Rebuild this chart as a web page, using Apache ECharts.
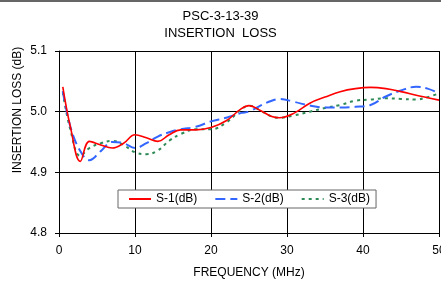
<!DOCTYPE html>
<html>
<head>
<meta charset="utf-8">
<script src="https://cdn.jsdelivr.net/npm/echarts@6/dist/echarts.min.js"></script>
<style>
  html, body { margin: 0; padding: 0; background: #fff; }
  #chart { width: 441px; height: 282px; }
</style>
</head>
<body>
<div id="chart"></div>
<script>
// frequency points (MHz)
var freq = [0.5, 1.5, 2.8, 4, 5.5, 7, 8.5, 10, 11.5, 13, 14.5, 16, 18, 20, 22, 24, 25, 26.5, 28, 29, 31, 33, 35, 37, 39, 41, 43, 45, 47, 48.5, 50]

// insertion loss (dB)
var s1 = [5.041, 4.975, 4.918, 4.951, 4.945, 4.940, 4.948, 4.962, 4.957, 4.951, 4.962, 4.970, 4.970, 4.974, 4.985, 5.005, 5.010, 5.002, 4.992, 4.990, 4.998, 5.014, 5.024, 5.033, 5.038, 5.040, 5.038, 5.033, 5.027, 5.023, 5.019]
var s2 = [5.034, 4.975, 4.935, 4.920, 4.935, 4.950, 4.948, 4.940, 4.948, 4.959, 4.966, 4.971, 4.975, 4.984, 4.990, 4.998, 5.000, 5.010, 5.018, 5.021, 5.016, 5.010, 5.007, 5.007, 5.008, 5.011, 5.025, 5.035, 5.041, 5.038, 5.030]
var s3 = [5.032, 4.970, 4.927, 4.940, 4.948, 4.952, 4.945, 4.933, 4.930, 4.936, 4.952, 4.963, 4.971, 4.971, 4.982, 5.004, 5.010, 5.002, 4.992, 4.990, 4.994, 5.000, 5.006, 5.011, 5.018, 5.020, 5.022, 5.021, 5.020, 5.024, 5.030]

var seriesNames = ['S-1(dB)', 'S-2(dB)', 'S-3(dB)']

function pairs(ys) {
  return freq.map(function (f, i) { return [f, ys[i]] })
}

var chart = echarts.init(document.getElementById('chart'))
var font = 'Liberation Sans, Arial, sans-serif'

chart.setOption({
  animation: false,
  textStyle: { fontFamily: font },
  title: {
    text: 'PSC-3-13-39\nINSERTION  LOSS',
    left: 'center',
    top: 3,
    textStyle: { fontSize: 13, fontWeight: 'normal', color: '#000', lineHeight: 17, fontFamily: font }
  },
  graphic: [
    { type: 'rect', left: 0, top: 0, shape: { width: 441, height: 2 }, style: { fill: '#666' } }
  ],
  legend: {
    left: 118,
    top: 190,
    data: seriesNames,
    backgroundColor: '#fff',
    borderColor: '#666',
    borderWidth: 1,
    padding: [3, 6, 3, 10],
    itemWidth: 22,
    itemHeight: 10,
    itemGap: 17,
    itemStyle: { opacity: 0 },
    textStyle: { fontSize: 12, color: '#000', fontFamily: font }
  },
  grid: { left: 59, right: 2, top: 51, bottom: 49, outerBoundsMode: 'none' },
  xAxis: {
    type: 'value',
    min: 0,
    max: 50,
    interval: 10,
    name: 'FREQUENCY (MHz)',
    nameLocation: 'middle',
    nameGap: 34,
    nameTextStyle: { fontSize: 12, color: '#000', fontFamily: font },
    axisLine: { lineStyle: { color: '#000', width: 1 } },
    axisTick: { show: true, length: 4, lineStyle: { color: '#000' } },
    axisLabel: { fontSize: 12, color: '#000', margin: 12 },
    splitLine: { show: true, lineStyle: { color: '#000', width: 1 } }
  },
  yAxis: {
    type: 'value',
    min: 4.8,
    max: 5.1,
    interval: 0.1,
    name: 'INSERTION LOSS (dB)',
    nameLocation: 'middle',
    nameGap: 35,
    nameMoveOverlap: false,
    nameTextStyle: { fontSize: 12, color: '#000', fontFamily: font, padding: [0, 0, 0, 64] },
    axisLine: { show: true, lineStyle: { color: '#000', width: 1 } },
    axisTick: { show: true, length: 4, lineStyle: { color: '#000' } },
    axisLabel: { fontSize: 12, color: '#000', margin: 12, formatter: function (v) { return v.toFixed(1) } },
    splitLine: { show: true, lineStyle: { color: '#000', width: 1 } }
  },
  series: [
    {
      name: seriesNames[0],
      type: 'line',
      smooth: 0.4,
      symbol: 'none',
      z: 4,
      lineStyle: { color: '#ff0000', width: 1.6 },
      itemStyle: { color: '#ff0000' },
      data: pairs(s1)
    },
    {
      name: seriesNames[1],
      type: 'line',
      smooth: 0.4,
      symbol: 'none',
      z: 3,
      lineStyle: { color: '#3366ff', width: 2, type: [10, 5] },
      itemStyle: { color: '#3366ff' },
      data: pairs(s2)
    },
    {
      name: seriesNames[2],
      type: 'line',
      smooth: 0.4,
      symbol: 'none',
      z: 2,
      lineStyle: { color: '#2e8b57', width: 2, type: [3, 4] },
      itemStyle: { color: '#2e8b57' },
      data: pairs(s3)
    }
  ]
})
</script>
</body>
</html>
